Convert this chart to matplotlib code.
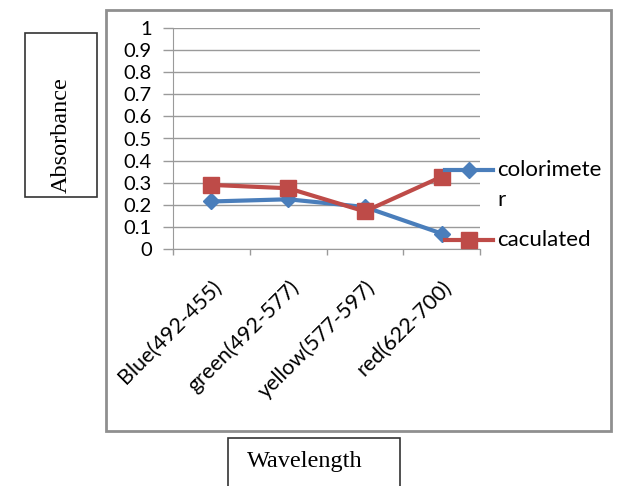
import matplotlib
matplotlib.use("Agg")
import matplotlib.pyplot as plt
from matplotlib.lines import Line2D
from matplotlib.patches import Rectangle

categories = ["Blue(492-455)", "green(492-577)", "yellow(577-597)", "red(622-700)"]
colorimeter = [0.215, 0.225, 0.19, 0.07]
calculated = [0.29, 0.275, 0.17, 0.327]
yticks = [0, 0.1, 0.2, 0.3, 0.4, 0.5, 0.6, 0.7, 0.8, 0.9, 1]
ytick_labels = ["0", "0.1", "0.2", "0.3", "0.4", "0.5", "0.6", "0.7", "0.8", "0.9", "1"]

W, H = 638, 486
fig = plt.figure(figsize=(W / 100, H / 100), dpi=100)
fig.patch.set_facecolor("white")

def fx(px):
    return px / W

def fy(py):
    return 1 - py / H

# outer chart border
fig.add_artist(Rectangle((fx(106), fy(431)), fx(611) - fx(106), fy(10) - fy(431),
                         transform=fig.transFigure, fill=False, edgecolor="#8f8f8f", lw=2))

ax = fig.add_axes([fx(173), fy(249), fx(480) - fx(173), fy(28) - fy(249)])
BLUE = "#4A7EBB"
RED = "#BE4B48"
GRID = "#9a9a9a"
SANS = "Lato"

x = list(range(len(categories)))
ax.plot(x, colorimeter, color=BLUE, lw=3, marker="D", ms=8, zorder=3, clip_on=False)
ax.plot(x, calculated, color=RED, lw=3, marker="s", ms=11, zorder=4, clip_on=False)

ax.set_xlim(-0.5, len(categories) - 0.5)
ax.set_ylim(0, 1)
ax.set_yticks(yticks)
ax.set_yticklabels(ytick_labels, fontfamily=SANS, fontsize=14.5)
ax.set_xticks(x)
ax.set_xticklabels(categories, rotation=45, ha="right", va="top", rotation_mode="anchor",
                   fontfamily=SANS, fontsize=15.5)
ax.tick_params(axis="x", length=0, pad=20)
ax.tick_params(axis="y", length=7.2, color=GRID, width=1, pad=8)
# category boundary ticks
ax.set_xticks([i - 0.5 for i in range(len(categories) + 1)], minor=True)
ax.tick_params(axis="x", which="minor", length=4, color=GRID, width=1)

ax.grid(axis="y", color=GRID, lw=1)
ax.set_axisbelow(True)
for s in ["top", "right"]:
    ax.spines[s].set_visible(False)
ax.spines["left"].set_color(GRID)
ax.spines["bottom"].set_color(GRID)

# legend (manual)
for yy, col, mk, ms, lab in [(170, BLUE, "D", 8, "colorimete"), (240, RED, "s", 11, "caculated")]:
    fig.add_artist(Line2D([fx(445), fx(493)], [fy(yy), fy(yy)], transform=fig.transFigure,
                          color=col, lw=3))
    fig.add_artist(Line2D([fx(469)], [fy(yy)], transform=fig.transFigure, color=col,
                          marker=mk, ms=ms, lw=0))
    fig.text(fx(497), fy(yy), lab, fontfamily=SANS, fontsize=16, va="center", ha="left")
fig.text(fx(497), fy(200), "r", fontfamily=SANS, fontsize=16, va="center", ha="left")

# axis title boxes
fig.add_artist(Rectangle((fx(25), fy(197)), fx(97) - fx(25), fy(33) - fy(197),
                         transform=fig.transFigure, fill=False, edgecolor="#333333", lw=1.2))
fig.text(fx(61), fy(135), "Absorbance", rotation=90, fontfamily="Liberation Serif",
         fontsize=17.5, ha="center", va="center")
fig.add_artist(Rectangle((fx(228), fy(490)), fx(400) - fx(228), fy(438) - fy(490),
                         transform=fig.transFigure, fill=False, edgecolor="#333333", lw=1.2))
fig.text(fx(305), fy(461), "Wavelength", fontfamily="Liberation Serif",
         fontsize=17.5, ha="center", va="center")

fig.savefig("out.png", dpi=100)
